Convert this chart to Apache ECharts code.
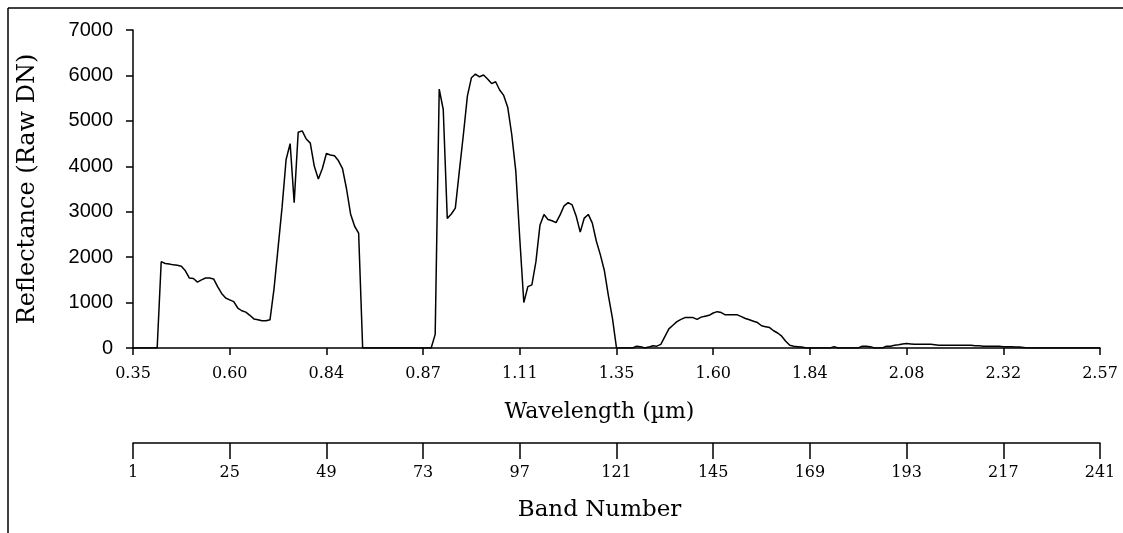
<!DOCTYPE html>
<html>
<head>
<meta charset="utf-8">
<script src="https://cdn.jsdelivr.net/npm/echarts@6/dist/echarts.min.js"></script>
<style>
html,body{margin:0;padding:0;background:#fff;}
#chart{width:1123px;height:533px;}
</style>
</head>
<body>
<div id="chart"></div>
<script>
// Band numbers 1..241 (category axis)
const bands = Array.from({length: 241}, (_, i) => String(i + 1));

// Wavelength labels shown at every 24th band (bands 1, 25, 49, ... 241)
const wavelengthLabels = ['0.35','0.60','0.84','0.87','1.11','1.35','1.60','1.84','2.08','2.32','2.57'];

// Reflectance (Raw DN) per band
const reflectance = [
  0,0,0,0,0,0,0,1900,1860,1850,
  1830,1820,1800,1700,1540,1530,1450,1500,1540,1540,
  1520,1350,1200,1100,1060,1020,880,820,790,720,
  640,620,600,600,620,1300,2200,3100,4150,4500,
  3200,4750,4780,4600,4510,4000,3720,3950,4280,4250,
  4230,4120,3950,3500,2950,2680,2530,0,0,0,
  0,0,0,0,0,0,0,0,0,0,
  0,0,0,0,0,300,5700,5250,2850,2950,
  3080,3900,4700,5550,5950,6030,5970,6010,5920,5820,
  5860,5680,5560,5300,4700,3900,2400,1000,1350,1390,
  1900,2700,2940,2830,2800,2760,2930,3130,3200,3150,
  2900,2550,2860,2940,2750,2350,2050,1700,1150,650,
  0,0,0,0,0,40,30,0,20,50,
  40,80,250,420,500,580,630,670,670,670,
  630,680,700,720,770,800,780,730,730,730,
  730,690,650,620,590,560,490,470,450,380,
  330,260,150,60,40,30,20,0,0,0,
  0,0,0,0,30,0,0,0,0,0,
  0,40,40,30,0,0,0,40,40,60,
  70,90,100,90,80,80,80,80,80,70,
  60,60,60,60,60,60,60,60,60,50,
  50,40,40,40,40,40,30,30,30,20,
  20,10,0,0,0,0,0,0,0,0,
  0,0,0,0,0,0,0,0,0,0,
  0
];

const serif = 'DejaVu Serif';
const chart = echarts.init(document.getElementById('chart'), null, {renderer: 'canvas'});
chart.setOption({
  animation: false,
  backgroundColor: '#fff',
  grid: {left: 133, right: 23, top: 30, bottom: 185, containLabel: false},
  xAxis: [
    {
      type: 'category',
      data: bands,
      boundaryGap: false,
      position: 'bottom',
      axisLine: {show: true, onZero: false, lineStyle: {color: '#000', width: 1.5}},
      axisTick: {show: true, interval: 23, length: 7, inside: false, lineStyle: {color: '#000', width: 1.5}},
      axisLabel: {
        interval: 23, margin: 18, color: '#000', fontFamily: serif, fontSize: 16,
        formatter: (v, i) => wavelengthLabels[Math.round(i / 24)]
      },
      splitLine: {show: false},
      name: 'Wavelength (µm)',
      nameLocation: 'middle',
      nameGap: 53,
      nameTextStyle: {color: '#000', fontFamily: serif, fontSize: 22, padding: [0, 34, 0, 0]}
    },
    {
      type: 'category',
      data: bands,
      boundaryGap: false,
      position: 'bottom',
      offset: 95,
      axisLine: {show: true, onZero: false, lineStyle: {color: '#000', width: 1.5}},
      axisTick: {show: true, interval: 23, length: 16, inside: false, lineStyle: {color: '#000', width: 1.5}},
      axisLabel: {interval: 23, margin: 22, color: '#000', fontFamily: serif, fontSize: 16},
      splitLine: {show: false},
      name: 'Band Number',
      nameLocation: 'middle',
      nameGap: 56,
      nameTextStyle: {color: '#000', fontFamily: serif, fontSize: 23, padding: [0, 34, 0, 0]}
    }
  ],
  yAxis: {
    type: 'value',
    min: 0, max: 7000, interval: 1000,
    axisLine: {show: true, lineStyle: {color: '#000', width: 1.5}},
    axisTick: {show: true, length: 7, inside: false, lineStyle: {color: '#000', width: 1.5}},
    axisLabel: {color: '#000', fontFamily: 'Liberation Sans', fontSize: 20, margin: 20,
      formatter: v => String(v)},
    splitLine: {show: false},
    name: 'Reflectance (Raw DN)',
    nameLocation: 'middle',
    nameGap: 93,
    nameRotate: 90,
    nameTextStyle: {color: '#000', fontFamily: serif, fontSize: 24}
  },
  series: [{
    type: 'line',
    xAxisIndex: 0,
    data: reflectance,
    showSymbol: false,
    symbol: 'none',
    lineStyle: {color: '#000', width: 1.5},
    z: 3
  }],
  graphic: [
    {type: 'line', shape: {x1: 8, y1: 8, x2: 1123, y2: 8}, style: {stroke: '#000', lineWidth: 1.5}},
    {type: 'line', shape: {x1: 8, y1: 8, x2: 8, y2: 533}, style: {stroke: '#000', lineWidth: 1.5}}
  ]
});
</script>
</body>
</html>
